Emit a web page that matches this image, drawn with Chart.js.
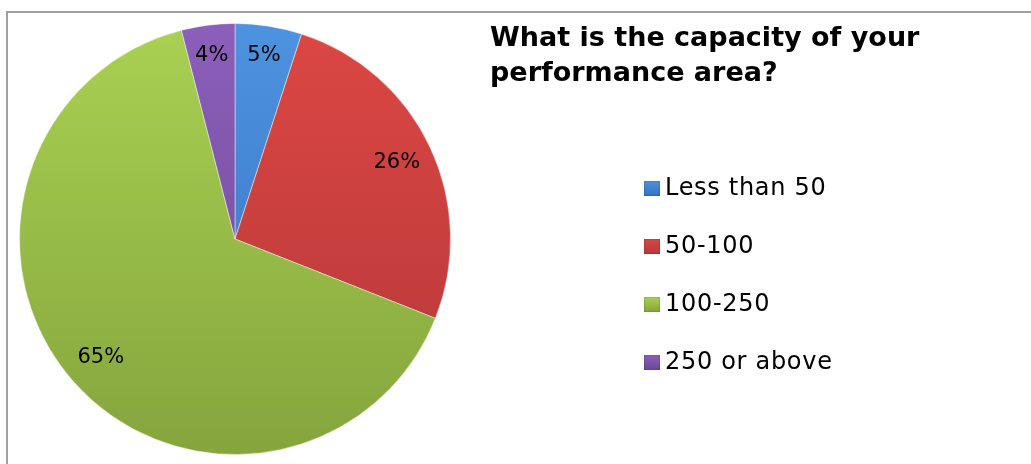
<!DOCTYPE html>
<html>
<head>
<meta charset="utf-8">
<script src="https://cdn.jsdelivr.net/npm/chart.js@4/dist/chart.umd.min.js"></script>
<style>
    html, body { margin: 0; padding: 0; background: #fff; }
    #wrap { position: relative; width: 1031px; height: 464px; overflow: hidden; }
    #frame { position: absolute; left: 6px; top: 11px; right: -2px; bottom: -2px;
             border-top: 2px solid #a0a0a0; border-left: 2px solid #a0a0a0; }
    #pie { position: absolute; left: 0; top: 0; }
    #title { position: absolute; left: 490px; top: 19px; margin: 0;
             font: bold 27px "DejaVu Sans", sans-serif; line-height: 35px; color: #000; }
    #legend { position: absolute; left: 644px; top: 173px; margin: 0; padding: 0; list-style: none;
              font: 24px "DejaVu Sans", sans-serif; letter-spacing: 0.7px; color: #000; }
    #legend li { height: 58px; display: flex; align-items: flex-start; }
    #legend .box { width: 16px; height: 15px; margin: 8px 5px 0 0; box-shadow: inset 0 0 2px rgba(0,0,0,0.35); }
</style>
</head>
<body>
<div id="wrap">
    <div id="frame"></div>
    <canvas id="pie" width="1031" height="464"></canvas>
    <h1 id="title">What is the capacity of your<br>performance area?</h1>
    <ul id="legend"></ul>
</div>
<script>
const categories = ['Less than 50', '50-100', '100-250', '250 or above'];
const shares = [5, 26, 65, 4];
const topColors = ['#4d93e0', '#dc4743', '#a9d152', '#8c5fba'];
const bottomColors = ['#3671c0', '#b4373a', '#85a53d', '#6a4994'];

// slice fill: vertical gradient over the pie box
function sliceFill(ctx) {
    const area = ctx.chart.chartArea;
    if (!area) return topColors[ctx.dataIndex];
    const g = ctx.chart.ctx.createLinearGradient(0, area.top, 0, area.bottom);
    g.addColorStop(0, topColors[ctx.dataIndex]);
    g.addColorStop(1, bottomColors[ctx.dataIndex]);
    return g;
}

const sliceLabels = {
    id: 'sliceLabels',
    afterDatasetsDraw(chart) {
        const ctx = chart.ctx;
        const meta = chart.getDatasetMeta(0);
        const total = shares.reduce((a, b) => a + b, 0);
        ctx.save();
        ctx.font = '21px "DejaVu Sans", sans-serif';
        ctx.fillStyle = '#000';
        ctx.textAlign = 'center';
        ctx.textBaseline = 'middle';
        meta.data.forEach((arc, i) => {
            const {x, y, startAngle, endAngle, outerRadius} = arc.getProps(['x', 'y', 'startAngle', 'endAngle', 'outerRadius'], true);
            const mid = (startAngle + endAngle) / 2;
            const r = outerRadius * (shares[i] < 10 ? 0.86 : 0.83);
            ctx.fillText(Math.round(shares[i] / total * 100) + '%', x + Math.cos(mid) * r, y + Math.sin(mid) * r);
        });
        ctx.restore();
    }
};

const chart = new Chart(document.getElementById('pie').getContext('2d'), {
    type: 'pie',
    data: {
        labels: categories,
        datasets: [{
            data: shares,
            backgroundColor: sliceFill,
            borderColor: 'rgba(255,255,255,0.45)',
            borderWidth: 1
        }]
    },
    options: {
        responsive: false,
        animation: false,
        layout: { padding: { left: 19, top: 23, right: 580, bottom: 9 } },
        plugins: {
            legend: { display: false },
            tooltip: { enabled: false }
        }
    },
    plugins: [sliceLabels]
});

const legend = document.getElementById('legend');
legend.innerHTML = categories.map((c, i) =>
    `<li><span class="box" style="background: linear-gradient(${topColors[i]}, ${bottomColors[i]})"></span><span>${c}</span></li>`
).join('');
</script>
</body>
</html>
